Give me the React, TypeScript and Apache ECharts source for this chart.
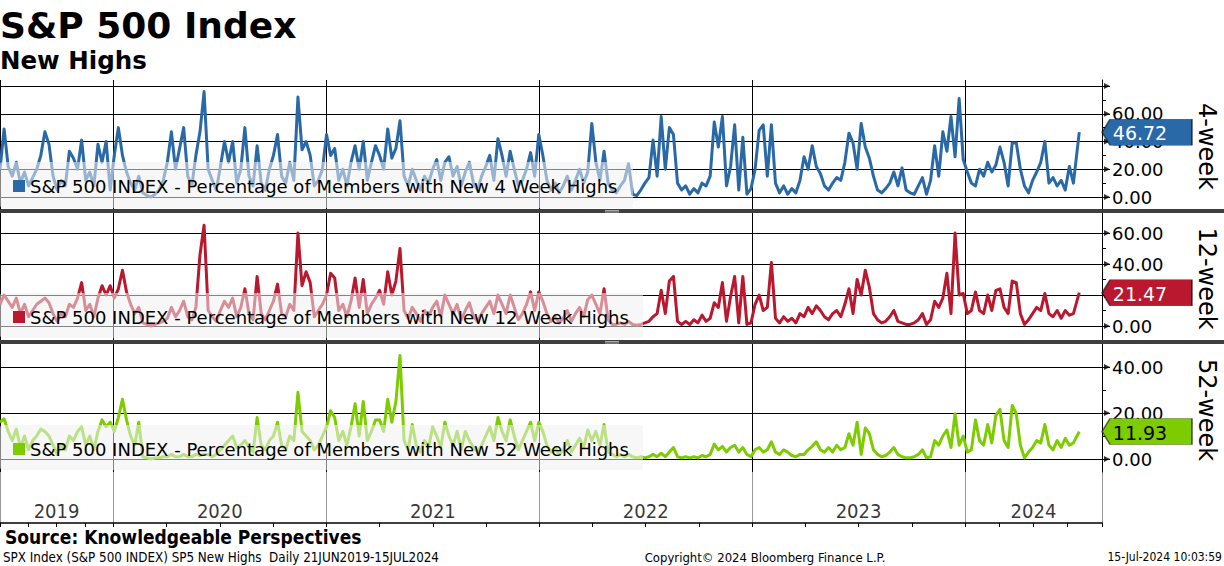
import React, { useEffect, useRef } from 'react';
import * as echarts from 'echarts';

// ---------- data ----------
const START_DATE = '2019-06-21'; // first weekly observation
const LAST_DATE = '2024-07-15'; // last observation
const AXIS_MIN = '2019-06-21';
const AXIS_MAX = '2024-08-23';
const YEARS = ['2019', '2020', '2021', '2022', '2023', '2024'];

const fourWeek = [
  20, 49, 22, 15, 25, 10, 18, 8, 14, 20,
  30, 47, 38, 15, 5, 12, 8, 33, 28, 20,
  41, 12, 18, 8, 38, 25, 40, 5, 30, 50,
  30, 18, 10, 5, 15, 3, 1, 0, 2, 5,
  12, 25, 47, 20, 35, 50, 15, 8, 30, 47,
  76, 20, 12, 5, 22, 40, 25, 40, 10, 20,
  50, 15, 8, 37, 10, 5, 20, 30, 45, 15,
  10, 25, 12, 72, 34, 40, 30, 8, 12, 20,
  45, 30, 35, 12, 20, 8, 25, 37, 20, 40,
  12, 25, 37, 30, 20, 49, 28, 35, 55, 15,
  8, 20, 12, 5, 15, 10, 20, 27, 12, 25,
  29, 15, 22, 8, 18, 25, 10, 5, 15, 22,
  30, 12, 42, 30, 15, 33, 20, 8, 12, 20,
  32, 15, 45, 30, 12, 5, 10, 3, 8, 15,
  5, 12, 20, 10, 18, 53, 25, 12, 33, 10,
  5, 3, 8, 12, 24, 2, 1, 5, 10, 14,
  41, 15, 58, 20, 50, 45, 10, 5, 8, 2,
  6, 3, 10, 8, 15, 54, 36, 58, 8, 22,
  52, 5, 43, 2, 6, 20, 48, 52, 15, 52,
  10, 3, 8, 2, 6, 3, 12, 29, 20, 37,
  22, 17, 8, 5, 10, 14, 12, 25, 46, 39,
  20, 53, 36, 28, 15, 5, 3, 6, 10, 18,
  8, 21, 5, 3, 2, 8, 14, 2, 12, 37,
  15, 47, 33, 58, 29, 71, 27, 18, 10, 8,
  20, 15, 25, 18, 23, 36, 25, 8, 39, 39,
  20, 8, 3, 12, 18, 25, 40, 10, 14, 8,
  12, 5, 22, 10, 46.72,
];

const twelveWeek = [
  14, 20, 16, 12, 18, 8, 14, 6, 10, 14,
  16, 18, 15, 8, 3, 8, 6, 14, 12, 18,
  28, 10, 14, 6, 18, 26, 20, 26, 18, 24,
  36, 22, 14, 8, 12, 2, 1, 0, 1, 2,
  3, 5, 12, 6, 10, 16, 6, 4, 12, 46,
  65, 10, 6, 3, 10, 16, 12, 18, 6, 12,
  24, 8, 4, 32, 8, 4, 10, 16, 27, 8,
  6, 14, 10, 60, 26, 35, 28, 6, 10, 14,
  20, 34, 31, 10, 14, 6, 16, 31, 12, 30,
  8, 14, 18, 23, 14, 35, 20, 29, 50, 10,
  5, 12, 8, 3, 10, 6, 12, 16, 6, 20,
  14, 8, 14, 4, 10, 15, 6, 3, 8, 12,
  16, 8, 20, 14, 8, 20, 12, 4, 8, 14,
  22, 10, 22, 16, 8, 3, 6, 2, 5, 10,
  3, 8, 12, 6, 17, 20, 14, 8, 24, 4,
  1, 1, 2, 1, 3, 1, 0.5, 1, 2, 3,
  6, 8, 23, 8, 29, 32, 3, 1, 3, 1,
  4, 2, 7, 3, 5, 15, 12, 28, 3, 19,
  32, 2, 32, 1, 2, 14, 20, 10, 12, 41,
  5, 2, 6, 3, 5, 2, 8, 6, 12, 8,
  13, 10, 6, 4, 8, 10, 6, 14, 24, 8,
  30, 20, 36, 25, 8, 4, 2, 3, 6, 10,
  3, 2, 1, 1, 2, 4, 8, 1, 4, 16,
  12, 18, 34, 8, 60, 20, 21, 8, 10, 22,
  10, 8, 20, 10, 23, 24, 12, 8, 29, 28,
  8, 1, 4, 8, 12, 10, 21, 8, 6, 10,
  5, 10, 7, 8, 21.47,
];

const fiftyTwoWeek = [
  16, 17.5, 12, 8, 13, 5, 10, 4, 8, 10,
  13, 12, 10, 6, 2, 6, 4, 10, 8, 12,
  14, 6, 10, 4, 12, 17, 14, 16, 12, 18,
  26, 17, 10, 6, 16, 1, 0.5, 0, 0.5, 0.5,
  1, 1, 2, 1, 1, 2, 1, 1, 2, 1.5,
  2, 2, 1, 2, 4, 6, 8, 10, 5, 6,
  8, 5, 3, 18, 6, 4, 8, 10, 16, 6,
  4, 10, 8, 29, 12, 10, 8, 4, 6, 10,
  14, 21, 18, 8, 12, 6, 14, 24, 10, 25,
  8, 12, 17, 17, 12, 26, 16, 25, 45, 8,
  4, 15, 6, 3, 8, 5, 14, 10, 5, 16,
  10, 6, 12, 4, 12, 8, 5, 3, 6, 10,
  14, 8, 18, 12, 8, 17, 10, 4, 8, 12,
  16, 8, 16, 12, 6, 3, 5, 2, 4, 8,
  3, 6, 9, 5, 12.6, 8, 12, 6, 15, 3,
  2, 1, 2, 1, 2, 1, 0.5, 1, 0.5, 1,
  2, 1, 2.5, 1, 3, 5, 1, 0.5, 1, 0.5,
  1, 0.5, 1.5, 1, 2, 6.5, 4, 5.5, 3, 5,
  6, 3, 5, 2, 1, 4, 5, 3, 4, 7.5,
  3, 2, 4, 3, 1.5, 1, 2, 2, 4, 5.5,
  7.5, 4, 3, 5, 3, 6, 4, 5, 11, 6,
  16, 2, 13.5, 11, 4, 2, 1, 1.5, 3, 5,
  2, 1, 0.5, 0.5, 1, 2, 4, 0.5, 1, 8,
  6, 10, 12.6, 5, 19.7, 6, 10, 3, 4, 17,
  8, 6, 15, 7, 19, 21.6, 8, 5, 23.3, 19.7,
  6, 0.5, 3, 5, 8, 7, 15, 6, 4, 8,
  5, 9, 6, 7, 11.93,
];

// ---------- helpers ----------
const DAY = 86400000;
function toTs(s: string): number {
  const [y, m, d] = s.split('-').map(Number);
  return new Date(y, m - 1, d).getTime();
}
function buildDates(n: number): number[] {
  const s = toTs(START_DATE);
  const out: number[] = [];
  for (let i = 0; i < n - 1; i++) out.push(s + i * 7 * DAY);
  out.push(toTs(LAST_DATE));
  return out;
}

const FONT = '"DejaVu Sans", Verdana, sans-serif';
const FONT_C = '"DejaVu Sans Condensed", "DejaVu Sans", sans-serif';
const PLOT_W = 1102;

function buildOption() {
  const xMin = toTs(AXIS_MIN);
  const xMax = toTs(AXIS_MAX);
  const panels = [
    {
      title: '4-week', data: fourWeek, color: '#2a69a8', tagText: '#ffffff',
      legend: 'S&P 500 INDEX - Percentage of Members with New 4 Week Highs',
      top: 80, bottom: 209, yTop: 86, yBot: 197, max: 80, showMax: false,
      boxTop: 162, boxBottom: 208, boxW: 633,
    },
    {
      title: '12-week', data: twelveWeek, color: '#b9182f', tagText: '#ffffff',
      legend: 'S&P 500 INDEX - Percentage of Members with New 12 Week Highs',
      top: 213, bottom: 340, yTop: 233, yBot: 326, max: 60, showMax: true,
      boxTop: 293, boxBottom: 338, boxW: 643,
    },
    {
      title: '52-week', data: fiftyTwoWeek, color: '#7dcc00', tagText: '#000000',
      legend: 'S&P 500 INDEX - Percentage of Members with New 52 Week Highs',
      top: 344, bottom: 472, yTop: 367, yBot: 459, max: 40, showMax: true,
      boxTop: 425, boxBottom: 470, boxW: 643,
    },
  ];

  const grid: any[] = [];
  const xAxis: any[] = [];
  const yAxis: any[] = [];
  const series: any[] = [];
  const graphic: any[] = [];

  panels.forEach((p) => {
    const dates = buildDates(p.data.length);
    const bg = grid.length;
    grid.push({ left: 0, width: PLOT_W, top: p.top, height: p.bottom - p.top });
    xAxis.push({
      type: 'time', gridIndex: bg, min: xMin, max: xMax,
      minInterval: 365 * DAY, maxInterval: 366 * DAY,
      axisLine: { show: false }, axisTick: { show: false }, axisLabel: { show: false },
      splitLine: { show: true, lineStyle: { color: '#000', width: 1 } },
    });
    yAxis.push({
      type: 'value', gridIndex: bg, position: 'right', min: 0, max: 1,
      axisLine: { show: true, lineStyle: { color: '#000', width: 1 } },
      axisTick: { show: false }, axisLabel: { show: false }, splitLine: { show: false },
    });
    const dg = grid.length;
    grid.push({ left: 0, width: PLOT_W, top: p.yTop, height: p.yBot - p.yTop });
    xAxis.push({ type: 'time', gridIndex: dg, min: xMin, max: xMax, show: false });
    yAxis.push({
      type: 'value', gridIndex: dg, position: 'right', min: 0, max: p.max, interval: 20,
      axisLine: { show: false },
      axisTick: { show: true, length: 8, lineStyle: { color: '#000', width: 1 } },
      minorTick: { show: true, splitNumber: 2, length: 4, lineStyle: { color: '#000', width: 1 } },
      splitLine: { show: true, lineStyle: { color: '#000', width: 1 } },
      axisLabel: {
        show: true, margin: 10, color: '#000', fontSize: 18, fontFamily: FONT,
        showMaxLabel: p.showMax,
        formatter: (v: number) => v.toFixed(2),
      },
    });
    // arrowheads at the ends of the major ticks
    const tickVals: number[] = [];
    for (let v = 0; v <= p.max; v += 20) tickVals.push(v);
    series.push({
      type: 'scatter', xAxisIndex: dg, yAxisIndex: dg, silent: true, clip: false,
      data: tickVals.map((v) => [xMax, v]),
      symbol: 'path://M0,0L8,4L0,8Z', symbolSize: [6, 6], symbolOffset: [5, 0],
      itemStyle: { color: '#000' }, z: 4,
    });
    const last = p.data[p.data.length - 1];
    series.push({
      type: 'line', xAxisIndex: dg, yAxisIndex: dg,
      data: p.data.map((v, i) => [dates[i], v]),
      showSymbol: false, symbol: 'none', clip: false,
      lineStyle: { color: p.color, width: 3, join: 'round' },
      itemStyle: { color: p.color },
      z: 3,
      markPoint: {
        silent: true,
        symbol: 'path://M0,13L8,0L90,0L90,26L8,26Z',
        symbolSize: [90, 26],
        symbolOffset: [45, 0],
        itemStyle: { color: p.color, borderColor: 'rgba(0,0,0,0.55)', borderWidth: 1 },
        label: {
          show: true, position: 'inside', offset: [-7, 1],
          color: p.tagText, fontSize: 19, fontFamily: FONT,
          formatter: () => last.toFixed(2),
        },
        data: [{ coord: [xMax, last] }],
        z: 10,
      },
    });

    // legend box overlay
    graphic.push({
      type: 'rect', z: 100, silent: true,
      shape: { x: 0, y: p.boxTop, width: p.boxW, height: p.boxBottom - p.boxTop, r: 3 },
      style: { fill: 'rgba(240,240,240,0.55)' },
    });
    const cy = p.boxTop + 24;
    graphic.push({
      type: 'rect', z: 101, silent: true,
      shape: { x: 13, y: cy - 6, width: 12, height: 12 },
      style: { fill: p.color },
    });
    graphic.push({
      type: 'text', z: 101, silent: true, x: 30, y: cy,
      style: {
        text: p.legend, fill: '#000', font: `18px ${FONT}`,
        verticalAlign: 'middle', textVerticalAlign: 'middle',
      },
    });
    // right-side panel name
    graphic.push({
      type: 'text', z: 101, silent: true,
      x: 1207, y: (p.top + p.bottom) / 2 + 2, rotation: -Math.PI / 2,
      style: {
        text: p.title, fill: '#000', font: `24px ${FONT}`,
        align: 'center', textAlign: 'center', verticalAlign: 'middle', textVerticalAlign: 'middle',
      },
    });
  });

  // separator bars
  [209, 340].forEach((y) => {
    graphic.push({
      type: 'rect', z: 102, silent: true,
      shape: { x: 0, y, width: 1224, height: 4 },
      style: { fill: '#3f3f3f' },
    });
    graphic.push({
      type: 'line', z: 103, silent: true,
      shape: { x1: 605, y1: y + 1.5, x2: 619, y2: y + 1.5 },
      style: { stroke: '#aaaaaa', lineWidth: 1 },
    });
    graphic.push({
      type: 'line', z: 103, silent: true,
      shape: { x1: 605, y1: y + 3, x2: 619, y2: y + 3 },
      style: { stroke: '#aaaaaa', lineWidth: 1 },
    });
  });

  // bottom year axis
  const bi = grid.length;
  grid.push({ left: 0, width: PLOT_W, top: 472, height: 51 });
  xAxis.push({
    type: 'time', gridIndex: bi, position: 'top', min: xMin, max: xMax,
    minInterval: 365 * DAY, maxInterval: 366 * DAY,
    axisLine: { show: true, lineStyle: { color: '#000', width: 1.5 } },
    axisTick: { show: true, inside: true, length: 4, lineStyle: { color: '#000' } },
    minorTick: { show: true, splitNumber: 4, length: 4, lineStyle: { color: '#000' } },
    axisLabel: { show: false },
    splitLine: { show: true, lineStyle: { color: '#9a9a9a', width: 1 } },
  });
  yAxis.push({ type: 'value', gridIndex: bi, min: 0, max: 1, show: false });
  const yearData = YEARS.map((y) => {
    const a = Math.max(xMin, toTs(`${y}-01-01`));
    const b = Math.min(xMax, toTs(`${Number(y) + 1}-01-01`));
    return { name: y, value: [(a + b) / 2, 0.235] };
  });
  series.push({
    type: 'scatter', xAxisIndex: bi, yAxisIndex: bi, data: yearData,
    symbolSize: 1, itemStyle: { color: 'rgba(0,0,0,0)' }, silent: true,
    label: {
      show: true, position: 'inside', formatter: '{b}', color: '#000',
      fontSize: 20, fontFamily: FONT_C,
    },
  });

  // titles & footer
  graphic.push(
    {
      type: 'text', z: 101, x: 0, y: 25, silent: true,
      style: { text: 'S&P 500 Index', fill: '#000', font: `bold 36px ${FONT}`, verticalAlign: 'middle', textVerticalAlign: 'middle' },
    },
    {
      type: 'text', z: 101, x: 0, y: 60, silent: true,
      style: { text: 'New Highs', fill: '#000', font: `bold 24.5px ${FONT}`, verticalAlign: 'middle', textVerticalAlign: 'middle' },
    },
    {
      type: 'text', z: 101, x: 5, y: 537, silent: true,
      style: { text: 'Source: Knowledgeable Perspectives', fill: '#000', font: `bold 19px ${FONT_C}`, verticalAlign: 'middle', textVerticalAlign: 'middle' },
    },
    {
      type: 'text', z: 101, x: 3, y: 557, silent: true,
      style: { text: 'SPX Index (S&P 500 INDEX) SP5 New Highs  Daily 21JUN2019-15JUL2024', fill: '#000', font: `13.3px ${FONT_C}`, verticalAlign: 'middle', textVerticalAlign: 'middle' },
    },
    {
      type: 'text', z: 101, x: 765, y: 557, silent: true,
      style: { text: 'Copyright\u00a9 2024 Bloomberg Finance L.P.', fill: '#000', font: `13px ${FONT_C}`, align: 'center', textAlign: 'center', verticalAlign: 'middle', textVerticalAlign: 'middle' },
    },
    {
      type: 'text', z: 101, x: 1222, y: 557, silent: true,
      style: { text: '15-Jul-2024 10:03:59', fill: '#000', font: `12px ${FONT_C}`, align: 'right', textAlign: 'right', verticalAlign: 'middle', textVerticalAlign: 'middle' },
    },
  );

  return {
    animation: false,
    backgroundColor: '#ffffff',
    grid, xAxis, yAxis, series, graphic,
  };
}

export default function App() {
  const ref = useRef<HTMLDivElement>(null);
  useEffect(() => {
    document.body.style.margin = '0';
    const chart = echarts.init(ref.current as HTMLDivElement, null, { renderer: 'svg' });
    chart.setOption(buildOption() as any);
    return () => chart.dispose();
  }, []);
  return <div ref={ref} style={{ width: 1224, height: 566 }} />;
}
